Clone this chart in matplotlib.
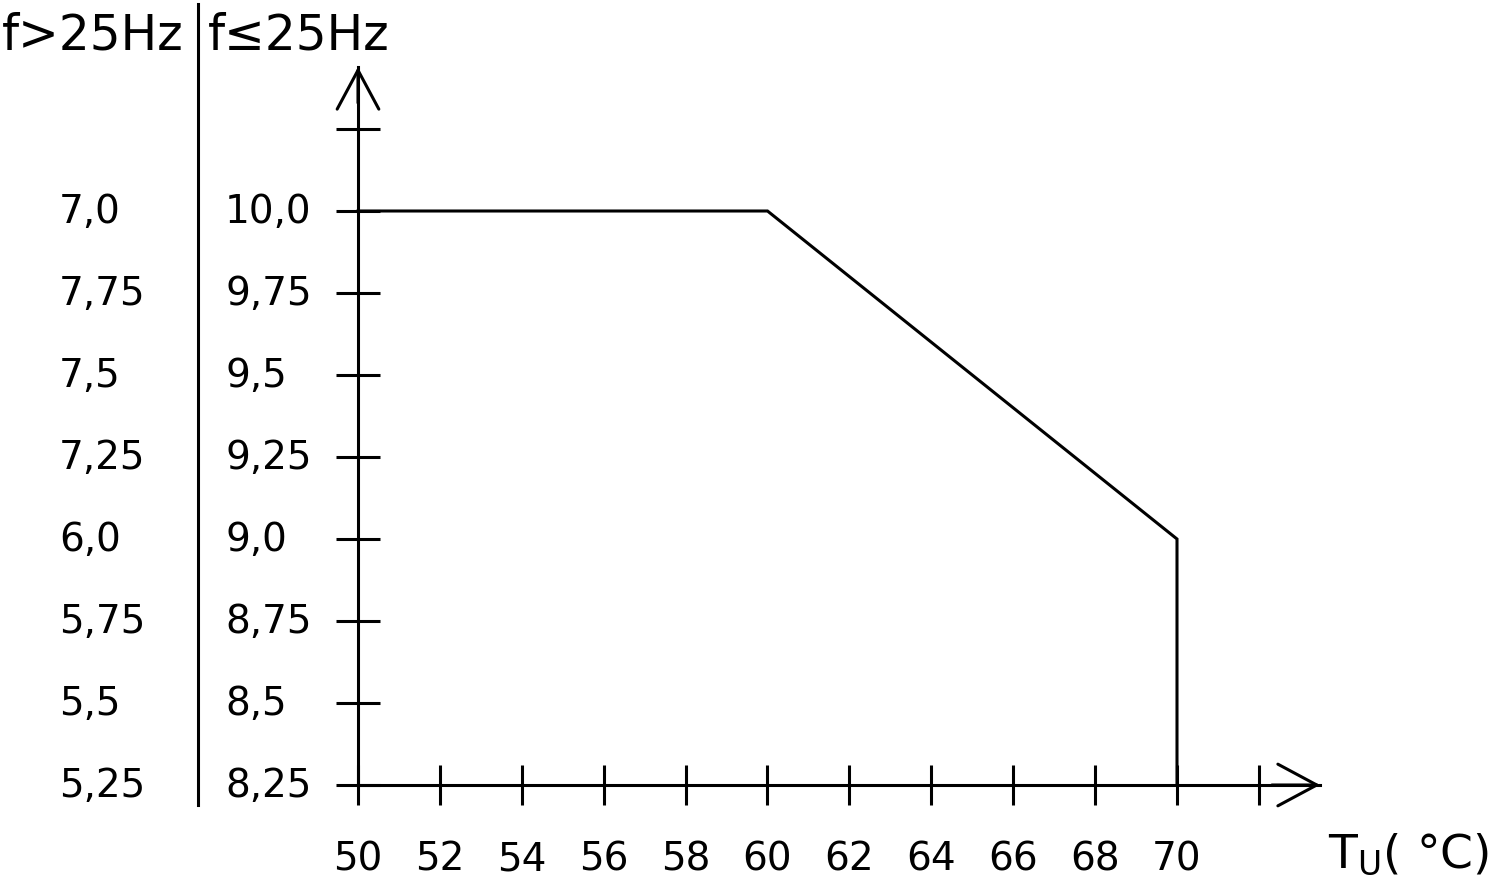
import matplotlib
matplotlib.use("Agg")
import matplotlib.pyplot as plt
from matplotlib.transforms import blended_transform_factory

# Derating curve: ambient temperature vs rated value
temp = [50, 60, 70, 70]
rating = [10.0, 10.0, 9.0, 8.25]

x_ticks = [50, 52, 54, 56, 58, 60, 62, 64, 66, 68, 70, 72]
x_labels = ["50", "52", "54", "56", "58", "60", "62", "64", "66", "68", "70", ""]
y_ticks = [8.25, 8.5, 8.75, 9.0, 9.25, 9.5, 9.75, 10.0, 10.25]
labels_low = ["8,25", "8,5", "8,75", "9,0", "9,25", "9,5", "9,75", "10,0"]   # f <= 25Hz
labels_high = ["5,25", "5,5", "5,75", "6,0", "7,25", "7,5", "7,75", "7,0"]   # f > 25Hz

W, H = 1500, 887
fig = plt.figure(figsize=(15, 8.87), dpi=100)

# axes placed so that origin sits at pixel (358, 786)
x0, y0, x1, y1 = 358, 786, 1320, 68
ax = fig.add_axes([x0 / W, (H - y0) / H, (x1 - x0) / W, (y0 - y1) / H])
px_per_x = (1177 - 358) / 20.0
px_per_y = 82 / 0.25
ax.set_xlim(50, 50 + (x1 - x0) / px_per_x)
ax.set_ylim(8.25, 8.25 + (y0 - y1) / px_per_y)

lw = 2.2
ax.plot(temp, rating, color="black", lw=lw, solid_joinstyle="miter", clip_on=False)

for s in ["top", "right"]:
    ax.spines[s].set_visible(False)
for s in ["left", "bottom"]:
    ax.spines[s].set_linewidth(lw)

ax.set_xticks(x_ticks)
ax.set_xticklabels([])
ax.set_yticks(y_ticks)
ax.set_yticklabels([])
ax.tick_params(axis="x", direction="inout", length=29, width=lw)
ax.tick_params(axis="y", direction="inout", length=32, width=lw)

# x labels on a common baseline
trx = blended_transform_factory(ax.transData, fig.transFigure)
for v, s in zip(x_ticks, x_labels):
    ax.text(v, 1 - 871 / H, s, transform=trx, fontsize=28, ha="center", va="baseline")

# open arrow heads at the axis ends
for xy, xyt in [((1, 0), (0.95, 0)), ((0, 1), (0, 0.95))]:
    ax.annotate("", xy=xy, xycoords="axes fraction", xytext=xyt, textcoords="axes fraction",
                arrowprops=dict(arrowstyle="->,head_length=1.4,head_width=0.75", lw=lw,
                                shrinkA=0, shrinkB=0, mutation_scale=20),
                annotation_clip=False)

# two columns of value labels
tr = blended_transform_factory(fig.transFigure, ax.transData)
for v, a, b in zip(y_ticks, labels_low, labels_high):
    ax.text(225 / W, v, a, transform=tr, fontsize=28, ha="left", va="center")
    ax.text(59 / W, v, b, transform=tr, fontsize=28, ha="left", va="center")

# column headers and divider
fig.text(2 / W, 1 - 35 / H, "f>25Hz", fontsize=35, ha="left", va="center")
fig.text(208 / W, 1 - 35 / H, "f≤25Hz", fontsize=35, ha="left", va="center")
fig.add_artist(plt.Line2D([198 / W, 198 / W], [1 - 5 / H, 1 - 806 / H], color="black", lw=lw))

fig.text(1328 / W, 1 - 855 / H, r"T$_\mathregular{U}$( °C)", fontsize=34, ha="left", va="center")

fig.savefig("out.png", dpi=100)
